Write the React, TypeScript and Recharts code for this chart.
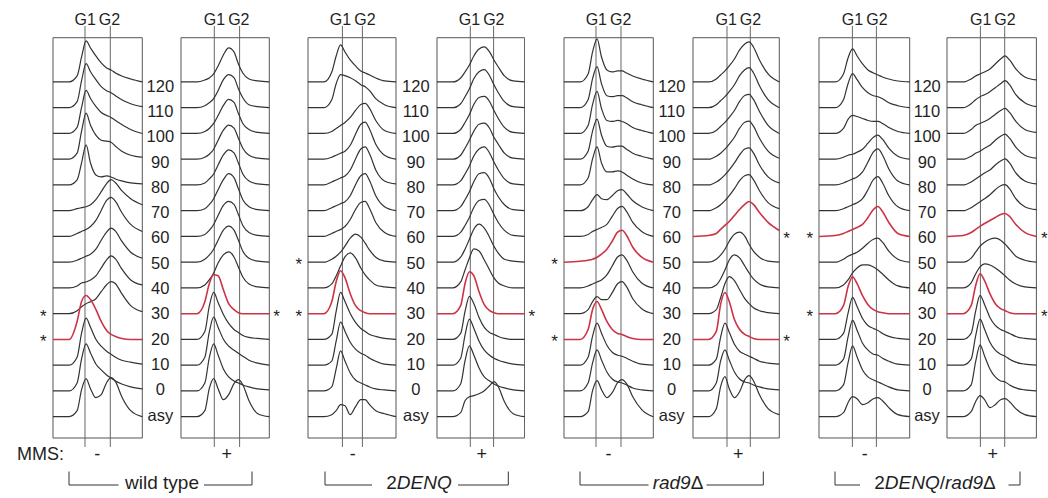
import React from "react";
import { LineChart, Line, XAxis, YAxis, ReferenceLine, ReferenceArea } from "recharts";

// sample positions across each histogram box (0 = left edge, 1 = right edge)
const xGrid = [0, 0.18, 0.27, 0.32, 0.37, 0.42, 0.48, 0.54, 0.6, 0.65, 0.7, 0.77, 0.87, 1];

// time points, bottom to top
const rowLabels = ["asy", "0", "10", "20", "30", "40", "50", "60", "70", "80", "90", "100", "110", "120"];

// histogram heights (px above each trace's baseline), rows asy -> 120
const wtMinus = [
  [0, 0, 6, 27, 38, 28, 19, 22, 34, 39, 35, 20, 6, 0],
  [0, 0, 8, 32, 47, 38, 27, 21, 16, 13, 10, 7, 4, 2],
  [0, 0, 8, 32, 47, 38, 26, 19, 14, 11, 8, 5, 3, 1],
  [0, 0, 18, 38, 44, 40, 30, 18, 9, 5, 3, 1, 0, 0],
  [0, 0, 3, 7, 10, 12, 15, 22, 29, 32, 30, 20, 8, 2],
  [0, 0, 2, 5, 6, 8, 12, 20, 28, 32, 29, 19, 8, 3],
  [0, 0, 2, 4, 6, 8, 13, 22, 30, 34, 31, 21, 10, 4],
  [0, 0, 3, 5, 7, 10, 16, 26, 36, 39, 35, 24, 12, 5],
  [0, 0, 2, 3, 4, 6, 11, 19, 27, 31, 28, 20, 12, 6],
  [0, 0, 5, 22, 40, 22, 10, 8, 9, 8, 6, 4, 2, 1],
  [0, 0, 6, 28, 46, 34, 24, 19, 18, 17, 13, 8, 4, 2],
  [0, 0, 6, 26, 43, 35, 27, 21, 18, 16, 13, 9, 4, 0],
  [0, 0, 6, 27, 44, 36, 28, 21, 17, 15, 12, 8, 4, 1],
  [0, 0, 6, 25, 41, 34, 26, 19, 14, 12, 9, 6, 3, 0],
];

const wtPlus = [
  [0, 0, 6, 28, 38, 28, 17, 22, 33, 37, 32, 16, 3, 0],
  [0, 0, 8, 33, 47, 36, 22, 14, 10, 8, 6, 4, 2, 1],
  [0, 0, 8, 33, 48, 38, 26, 19, 15, 12, 9, 5, 2, 0],
  [0, 0, 8, 33, 47, 37, 25, 16, 10, 7, 4, 2, 1, 0],
  [0, 0, 12, 30, 39, 38, 24, 10, 4, 1, 0, 0, 0, 0],
  [0, 0, 3, 8, 15, 25, 33, 36, 31, 21, 11, 4, 1, 0],
  [0, 0, 3, 7, 13, 22, 32, 36, 32, 22, 11, 4, 1, 0],
  [0, 0, 2, 6, 12, 21, 31, 35, 32, 22, 11, 4, 1, 0],
  [0, 0, 2, 6, 12, 21, 31, 37, 33, 22, 11, 4, 1, 0],
  [0, 0, 2, 6, 11, 20, 30, 35, 32, 22, 11, 4, 1, 0],
  [0, 0, 2, 5, 10, 19, 29, 34, 31, 21, 11, 4, 1, 0],
  [0, 0, 2, 5, 10, 18, 28, 34, 31, 20, 10, 4, 1, 0],
  [0, 0, 2, 5, 9, 17, 28, 33, 30, 19, 10, 3, 1, 0],
  [0, 0, 2, 4, 8, 16, 27, 34, 30, 18, 9, 3, 1, 0],
];

const denqMinus = [
  [0, 0, 2, 6, 12, 11, 2, 10, 17, 17, 12, 6, 3, 0],
  [0, 0, 4, 22, 40, 30, 18, 11, 8, 6, 4, 2, 1, 0],
  [0, 0, 4, 24, 43, 34, 23, 16, 12, 10, 7, 4, 1, 0],
  [0, 0, 5, 28, 47, 38, 26, 17, 11, 8, 5, 3, 1, 0],
  [0, 0, 12, 32, 43, 36, 20, 8, 3, 1, 0, 0, 0, 0],
  [0, 0, 4, 12, 22, 31, 35, 30, 20, 13, 8, 3, 1, 0],
  [0, 0, 3, 6, 10, 16, 24, 28, 25, 19, 12, 5, 1, 0],
  [0, 0, 3, 5, 7, 10, 17, 27, 34, 35, 28, 14, 4, 0],
  [0, 0, 3, 5, 7, 9, 15, 26, 35, 37, 30, 15, 4, 0],
  [0, 0, 3, 5, 7, 9, 15, 26, 36, 38, 31, 15, 4, 1],
  [0, 0, 2, 4, 6, 8, 14, 25, 35, 37, 30, 15, 4, 0],
  [0, 0, 2, 5, 8, 11, 16, 23, 29, 30, 25, 13, 3, 0],
  [0, 0, 8, 24, 33, 32, 30, 27, 23, 21, 17, 9, 3, 0],
  [0, 0, 10, 26, 37, 30, 22, 16, 11, 9, 7, 4, 1, 0],
];

const denqPlus = [
  [0, 0, 4, 16, 20, 21, 23, 26, 31, 35, 30, 15, 3, 0],
  [0, 0, 7, 30, 45, 36, 23, 14, 10, 7, 5, 3, 1, 0],
  [0, 0, 7, 30, 46, 37, 24, 15, 10, 7, 5, 3, 1, 0],
  [0, 0, 6, 28, 43, 36, 22, 12, 7, 5, 3, 1, 0, 0],
  [0, 0, 8, 30, 42, 38, 22, 9, 3, 1, 0, 0, 0, 0],
  [0, 0, 6, 18, 30, 39, 37, 28, 18, 10, 5, 2, 0, 0],
  [0, 0, 5, 13, 23, 33, 38, 34, 25, 16, 9, 3, 1, 0],
  [0, 0, 4, 11, 19, 29, 36, 37, 31, 22, 14, 6, 1, 0],
  [0, 0, 4, 11, 19, 29, 37, 38, 32, 22, 14, 6, 1, 0],
  [0, 0, 4, 11, 19, 29, 36, 38, 32, 23, 15, 6, 1, 0],
  [0, 0, 4, 11, 19, 28, 35, 36, 31, 22, 15, 6, 1, 0],
  [0, 0, 4, 11, 19, 29, 36, 37, 32, 23, 15, 6, 1, 0],
  [0, 0, 4, 11, 19, 29, 36, 38, 32, 23, 15, 6, 1, 0],
  [0, 0, 4, 10, 17, 26, 33, 35, 30, 22, 15, 6, 1, 0],
];

const rad9Minus = [
  [0, 0, 5, 26, 36, 27, 19, 24, 34, 37, 33, 20, 7, 0],
  [0, 0, 8, 28, 41, 31, 19, 12, 9, 8, 6, 3, 1, 0],
  [0, 0, 8, 29, 42, 32, 20, 13, 10, 9, 7, 4, 1, 0],
  [0, 0, 10, 30, 38, 30, 18, 10, 6, 5, 3, 1, 0, 0],
  [0, 0, 4, 12, 17, 14, 14, 21, 30, 32, 27, 15, 5, 0],
  [0, 0, 2, 4, 6, 8, 13, 22, 31, 33, 28, 16, 5, 0],
  [0, 1, 2, 3, 5, 8, 13, 21, 30, 32, 27, 15, 5, 0],
  [0, 0, 2, 5, 7, 9, 12, 20, 28, 30, 25, 14, 5, 0],
  [0, 0, 4, 11, 16, 12, 11, 15, 20, 21, 17, 10, 4, 0],
  [0, 0, 7, 26, 38, 22, 13, 13, 14, 13, 10, 6, 2, 0],
  [0, 0, 8, 28, 40, 24, 13, 12, 13, 13, 10, 6, 3, 0],
  [0, 0, 8, 29, 42, 25, 13, 12, 13, 12, 10, 6, 3, 0],
  [0, 0, 8, 29, 41, 24, 12, 11, 12, 12, 10, 6, 3, 0],
  [0, 0, 8, 30, 43, 25, 12, 10, 11, 11, 9, 6, 3, 0],
];

const rad9Plus = [
  [0, 0, 8, 30, 40, 28, 19, 25, 37, 41, 36, 22, 8, 2],
  [0, 0, 8, 30, 41, 31, 19, 12, 9, 8, 6, 4, 2, 1],
  [0, 0, 6, 28, 42, 33, 21, 14, 11, 9, 7, 4, 2, 1],
  [0, 0, 8, 35, 47, 38, 20, 10, 5, 3, 1, 0, 0, 0],
  [0, 0, 4, 16, 30, 37, 33, 24, 15, 10, 6, 3, 1, 0],
  [0, 0, 3, 9, 18, 28, 33, 30, 22, 15, 9, 4, 1, 0],
  [0, 0, 3, 7, 13, 21, 28, 30, 26, 18, 11, 5, 1, 0],
  [0, 1, 3, 7, 11, 15, 21, 27, 32, 35, 32, 24, 14, 6],
  [0, 0, 3, 6, 10, 15, 22, 30, 35, 36, 31, 20, 8, 2],
  [0, 0, 3, 6, 10, 15, 22, 30, 36, 37, 32, 20, 8, 2],
  [0, 0, 3, 6, 10, 15, 22, 31, 37, 38, 33, 21, 8, 1],
  [0, 0, 3, 7, 11, 16, 23, 32, 38, 39, 34, 22, 8, 0],
  [0, 0, 3, 7, 11, 16, 23, 32, 38, 40, 35, 22, 8, 0],
  [0, 0, 3, 7, 11, 16, 23, 32, 38, 40, 35, 22, 8, 0],
];

const dblMinus = [
  [0, 0, 4, 14, 20, 18, 12, 14, 18, 19, 16, 9, 2, 0],
  [0, 0, 6, 28, 45, 34, 21, 14, 11, 9, 7, 4, 1, 0],
  [0, 0, 6, 28, 45, 35, 22, 15, 11, 10, 7, 4, 1, 0],
  [0, 0, 6, 26, 42, 33, 21, 14, 11, 9, 6, 3, 1, 0],
  [0, 0, 8, 27, 37, 30, 18, 9, 4, 2, 1, 0, 0, 0],
  [0, 0, 3, 8, 15, 20, 23, 23, 21, 18, 14, 8, 2, 0],
  [0, 0, 3, 6, 8, 10, 14, 19, 23, 24, 20, 11, 3, 0],
  [0, 1, 3, 5, 7, 9, 12, 19, 27, 30, 25, 14, 3, 0],
  [0, 0, 2, 4, 6, 8, 12, 21, 31, 34, 28, 15, 4, 0],
  [0, 0, 2, 4, 6, 8, 13, 23, 33, 36, 30, 16, 4, 0],
  [0, 0, 2, 4, 5, 7, 10, 16, 22, 24, 20, 11, 3, 0],
  [0, 0, 5, 14, 18, 17, 15, 13, 12, 12, 10, 6, 2, 0],
  [0, 0, 8, 24, 34, 28, 20, 15, 12, 11, 9, 5, 2, 0],
  [0, 0, 8, 24, 33, 26, 18, 12, 9, 7, 5, 3, 1, 0],
];

const dblPlus = [
  [0, 0, 5, 15, 21, 17, 9, 12, 17, 18, 15, 8, 2, 0],
  [0, 0, 6, 29, 46, 35, 22, 14, 10, 9, 6, 3, 1, 0],
  [0, 0, 6, 29, 46, 36, 23, 15, 11, 9, 6, 3, 1, 0],
  [0, 0, 6, 28, 44, 35, 22, 14, 10, 8, 6, 3, 1, 0],
  [0, 0, 8, 28, 40, 33, 20, 10, 5, 3, 1, 0, 0, 0],
  [0, 0, 5, 14, 21, 24, 23, 20, 16, 12, 8, 4, 1, 0],
  [0, 0, 4, 10, 16, 20, 23, 24, 22, 18, 13, 6, 2, 0],
  [0, 1, 4, 7, 10, 13, 16, 19, 22, 23, 20, 12, 4, 0],
  [0, 0, 3, 6, 9, 12, 16, 21, 25, 26, 22, 12, 4, 1],
  [0, 0, 3, 6, 9, 12, 15, 20, 24, 26, 22, 12, 4, 1],
  [0, 0, 3, 6, 8, 11, 14, 19, 23, 25, 21, 12, 4, 1],
  [0, 0, 4, 8, 10, 12, 15, 19, 23, 25, 21, 12, 4, 1],
  [0, 0, 4, 8, 11, 13, 16, 20, 24, 27, 23, 13, 5, 1],
  [0, 0, 3, 6, 8, 10, 13, 18, 23, 26, 22, 13, 5, 2],
];

// which rows are highlighted / starred (indices into rowLabels)
const redRows = [[3], [4], [4], [4], [6, 3], [7, 3], [7, 4], [7, 4]];
const starRows = [[4, 3], [4], [6, 4], [4], [6, 3], [7, 3], [7, 4], [7, 4]];
const mmsSigns = ["-", "+", "-", "+", "-", "+", "-", "+"];

const FONT = '"Liberation Sans", Arial, Helvetica, sans-serif';
const INK = "#333";
const RED = "#cc3347";
const CH = 450;
const BOX_TOP = 37.7;
const BOX_BOTTOM = 438;
const baseY = (i: number) => 416.7 - i * 25.75;

const panels = [
  { curves: wtMinus, left: 52.7, right: 142, g1: 84.7, g2: 110, starSide: -1 },
  { curves: wtPlus, left: 180.7, right: 269, g1: 214, g2: 239.3, starSide: 1 },
  { curves: denqMinus, left: 308.3, right: 396.3, g1: 342.7, g2: 362.7, starSide: -1 },
  { curves: denqPlus, left: 436.7, right: 524.3, g1: 470, g2: 493.3, starSide: 1 },
  { curves: rad9Minus, left: 564, right: 653.3, g1: 596, g2: 621, starSide: -1 },
  { curves: rad9Plus, left: 692.7, right: 779, g1: 726.7, g2: 750, starSide: 1 },
  { curves: dblMinus, left: 819.3, right: 910, g1: 852.7, g2: 876.7, starSide: -1 },
  { curves: dblPlus, left: 947.3, right: 1036.7, g1: 980.7, g2: 1005, starSide: 1 },
];

const labelCols = [160.3, 415.8, 671.7, 927];

const brackets = [
  { x1: 69, x2: 252, gap: [118.5, 204], cx: 162, parts: [["wild type", false]] },
  { x1: 325, x2: 508.3, gap: [372, 458], cx: 419, parts: [["2", false], ["DENQ", true]] },
  { x1: 580, x2: 763.3, gap: [648.5, 706.5], cx: 678, parts: [["rad9", true], ["Δ", false]] },
  { x1: 835, x2: 1020, gap: [860, 1008.5], cx: 935, parts: [["2", false], ["DENQ", true], ["/", false], ["rad9", true], ["Δ", false]] },
];

function Panel({ idx }: { idx: number }) {
  const p = panels[idx];
  const w = p.right - p.left;
  const g1 = (p.g1 - p.left) / w;
  const g2 = (p.g2 - p.left) / w;
  const data = xGrid.map((x, j) => {
    const row: Record<string, number> = { x };
    p.curves.forEach((c, i) => {
      row["r" + i] = baseY(i) - c[j];
    });
    return row;
  });
  const reds = redRows[idx];
  const order = [...rowLabels.map((_, i) => i).filter((i) => !reds.includes(i)), ...reds];

  return (
    <div style={{ position: "absolute", left: p.left - 1, top: 0 }}>
      <LineChart width={w + 2} height={CH} data={data} margin={{ top: 0, right: 1, bottom: 0, left: 1 }}>
        <XAxis dataKey="x" type="number" domain={[0, 1]} hide />
        <YAxis type="number" domain={[0, CH]} reversed hide allowDataOverflow />
        <ReferenceArea x1={0} x2={1} y1={BOX_TOP} y2={BOX_BOTTOM} fill="none" fillOpacity={0} stroke="#555" strokeWidth={1} />
        <ReferenceLine segment={[{ x: g1, y: 26 }, { x: g1, y: 447 }]} stroke="#666" strokeWidth={1} />
        <ReferenceLine segment={[{ x: g2, y: 26 }, { x: g2, y: 447 }]} stroke="#666" strokeWidth={1} />
        {order.map((i) => (
          <Line
            key={i}
            dataKey={"r" + i}
            type="monotone"
            stroke={reds.includes(i) ? RED : INK}
            strokeWidth={reds.includes(i) ? 1.6 : 1.2}
            dot={false}
            activeDot={false}
            isAnimationActive={false}
          />
        ))}
      </LineChart>
    </div>
  );
}

function Annotations() {
  return (
    <svg width={1048} height={498} style={{ position: "absolute", left: 0, top: 0, pointerEvents: "none" }} fontFamily={FONT}>
      {labelCols.map((cx, k) =>
        rowLabels.map((t, i) => (
          <text key={k + "-" + i} x={cx} y={420.5 - i * 25.3} textAnchor="middle" fontSize={16.5} fill="#1f1f1f">
            {t}
          </text>
        ))
      )}
      {panels.map((p, k) => {
        const mid = (p.g1 + p.g2) / 2;
        const sx = p.starSide < 0 ? p.left - 9.5 : p.right + 7.5;
        return (
          <g key={"p" + k}>
            <text x={mid - 1.5} y={25} textAnchor="end" fontSize={16} fill="#1f1f1f">G1</text>
            <text x={mid + 1.5} y={25} textAnchor="start" fontSize={16} fill="#1f1f1f">G2</text>
            <text x={mid} y={460} textAnchor="middle" fontSize={18} fill="#1f1f1f">{mmsSigns[k]}</text>
            {starRows[k].map((r) => (
              <text key={r} x={sx} y={baseY(r) + 8} textAnchor="middle" fontSize={17} fill="#222">*</text>
            ))}
          </g>
        );
      })}
      <text x={64} y={460} textAnchor="end" fontSize={18} fill="#1f1f1f">MMS:</text>
      {brackets.map((b, k) => (
        <g key={"b" + k} stroke="#333" strokeWidth={1} fill="none">
          <line x1={b.x1} y1={471.5} x2={b.x1} y2={485} />
          <line x1={b.x2} y1={471.5} x2={b.x2} y2={485} />
          <line x1={b.x1} y1={485} x2={b.gap[0]} y2={485} />
          <line x1={b.gap[1]} y1={485} x2={b.x2} y2={485} />
          <text x={b.cx} y={489} textAnchor="middle" fontSize={19} fill="#1f1f1f" stroke="none">
            {b.parts.map(([t, it], j) => (
              <tspan key={j} fontStyle={it ? "italic" : "normal"}>{t as string}</tspan>
            ))}
          </text>
        </g>
      ))}
    </svg>
  );
}

export default function App() {
  return (
    <div style={{ position: "absolute", left: 0, top: 0, width: 1048, height: 498, background: "#fff", overflow: "hidden" }}>
      {panels.map((_, i) => (
        <Panel key={i} idx={i} />
      ))}
      <Annotations />
    </div>
  );
}
